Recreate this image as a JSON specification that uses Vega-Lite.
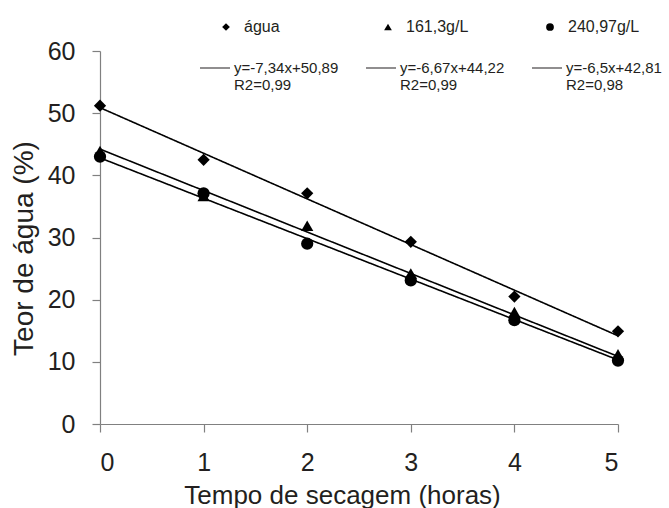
{
  "$schema": "https://vega.github.io/schema/vega-lite/v6.json",
  "autosize": "none",
  "width": 518,
  "height": 373,
  "padding": {"left": 100, "top": 51, "right": 51, "bottom": 84},
  "background": "white",
  "config": {
    "font": "Liberation Sans",
    "view": {"stroke": null},
    "axis": {"grid": false, "domainColor": "#808080", "tickColor": "#808080", "labelColor": "#231f20", "titleColor": "#231f20", "labelFont": "Liberation Sans", "titleFont": "Liberation Sans", "titleFontWeight": "normal", "tickSize": 8, "labelFontSize": 25, "domainWidth": 1.2, "tickWidth": 1.2},
    "legend": {"labelFont": "Liberation Sans", "labelColor": "#231f20", "labelFontSize": 16}
  },
  "datasets": {
    "pts": [
      {"serie": "água", "t": 0, "teor": 51.2},
      {"serie": "água", "t": 1, "teor": 42.5},
      {"serie": "água", "t": 2, "teor": 37.1},
      {"serie": "água", "t": 3, "teor": 29.3},
      {"serie": "água", "t": 4, "teor": 20.5},
      {"serie": "água", "t": 5, "teor": 14.9},
      {"serie": "161,3g/L", "t": 0, "teor": 43.9},
      {"serie": "161,3g/L", "t": 1, "teor": 36.7},
      {"serie": "161,3g/L", "t": 2, "teor": 31.9},
      {"serie": "161,3g/L", "t": 3, "teor": 24.2},
      {"serie": "161,3g/L", "t": 4, "teor": 18.0},
      {"serie": "161,3g/L", "t": 5, "teor": 11.2},
      {"serie": "240,97g/L", "t": 0, "teor": 43.0},
      {"serie": "240,97g/L", "t": 1, "teor": 37.1},
      {"serie": "240,97g/L", "t": 2, "teor": 29.0},
      {"serie": "240,97g/L", "t": 3, "teor": 23.1},
      {"serie": "240,97g/L", "t": 4, "teor": 16.7},
      {"serie": "240,97g/L", "t": 5, "teor": 10.2}
    ],
    "fits": [
      {"eq": "y=-7,34x+50,89|R2=0,99", "t": 0, "teor": 50.89},
      {"eq": "y=-7,34x+50,89|R2=0,99", "t": 5, "teor": 14.19},
      {"eq": "y=-6,67x+44,22|R2=0,99", "t": 0, "teor": 44.22},
      {"eq": "y=-6,67x+44,22|R2=0,99", "t": 5, "teor": 10.87},
      {"eq": "y=-6,5x+42,81|R2=0,98", "t": 0, "teor": 42.81},
      {"eq": "y=-6,5x+42,81|R2=0,98", "t": 5, "teor": 10.31}
    ]
  },
  "layer": [
    {
      "data": {"name": "fits"},
      "mark": {"type": "line", "color": "black", "strokeWidth": 1.6},
      "encoding": {
        "x": {"field": "t", "type": "quantitative", "scale": {"domain": [0, 5]}, "axis": {"values": [0, 1, 2, 3, 4, 5], "format": "d", "title": "Tempo de secagem (horas)", "titleFontSize": 26, "labelPadding": 18, "titleX": 242, "titleY": 79, "titleBaseline": "alphabetic"}},
        "y": {"field": "teor", "type": "quantitative", "scale": {"domain": [0, 60]}, "axis": {"values": [0, 10, 20, 30, 40, 50, 60], "title": "Teor de água (%)", "titleFontSize": 28, "labelPadding": 17, "titleX": -68, "titleY": 197, "titleBaseline": "alphabetic"}},
        "strokeDash": {
          "field": "eq", "type": "nominal",
          "scale": {"domain": ["y=-7,34x+50,89|R2=0,99", "y=-6,67x+44,22|R2=0,99", "y=-6,5x+42,81|R2=0,98"], "range": [[1, 0], [1, 0], [1, 0]]},
          "legend": {"orient": "none", "legendX": 99, "legendY": 1, "direction": "horizontal", "columns": 3, "title": null, "symbolType": "stroke", "symbolSize": 900, "symbolStrokeColor": "#231f20", "symbolStrokeWidth": 1.2, "labelExpr": "split(datum.label, '|')", "labelFontSize": 15, "labelOffset": 3, "labelBaseline": "middle", "columnPadding": 24, "labelLimit": 200}
        }
      }
    },
    {
      "data": {"name": "pts"},
      "mark": {"type": "point", "filled": true, "color": "black", "opacity": 1, "size": 150},
      "encoding": {
        "x": {"field": "t", "type": "quantitative"},
        "y": {"field": "teor", "type": "quantitative"},
        "shape": {
          "field": "serie", "type": "nominal",
          "scale": {"domain": ["água", "161,3g/L", "240,97g/L"], "range": ["diamond", "triangle-up", "circle"]},
          "legend": {"orient": "none", "legendX": 118, "legendY": -32, "direction": "horizontal", "columns": 3, "gridAlign": "all", "title": null, "symbolSize": 60, "symbolFillColor": "black", "symbolStrokeColor": "black", "symbolStrokeWidth": 0, "symbolOpacity": 1, "labelOffset": 10, "columnPadding": 64}
        }
      }
    }
  ]
}
